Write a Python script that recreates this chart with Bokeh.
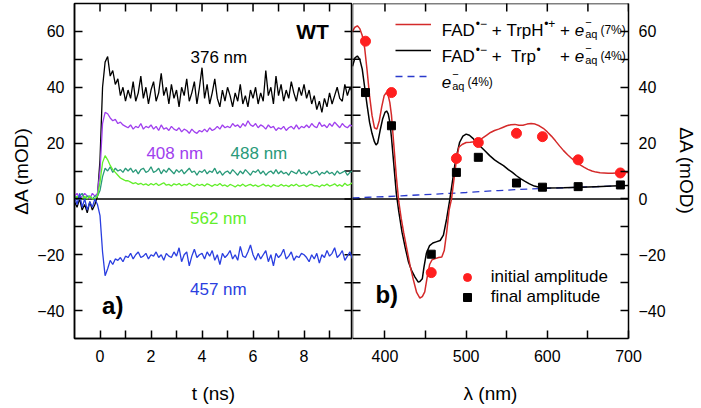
import numpy as np
from bokeh.plotting import figure
from bokeh.layouts import row
from bokeh.models import (LinearAxis, FixedTicker, Range1d, Span, Label, Legend,
                          LegendItem)
from bokeh.core.properties import value
from bokeh.embed import file_html
from bokeh.resources import INLINE

FONT = "Liberation Sans"

# ---------------- panel a) : transient traces (mOD) sampled every 0.1 ns from -1 ns
T_START = -1.0
T_STEP = 0.1
TRACE_376 = [-1, -3, 0, -4, -2, -5, -1, -4, -2, 1,
             14, 40, 49, 51, 44, 46, 41, 43, 37, 40, 35,
             39, 36, 42, 35, 38, 44, 36, 40, 34, 39,
             42, 35, 38, 45, 37, 40, 34, 41, 36, 39,
             33, 40, 37, 43, 35, 38, 42, 34, 40, 47,
             36, 41, 34, 38, 43, 36, 33, 39, 35, 40,
             37, 33, 38, 35, 41, 34, 37, 33, 39, 36,
             40, 34, 38, 35, 46, 37, 40, 34, 44, 37,
             41, 35, 39, 36, 42, 38, 35, 40, 37, 41,
             36, 39, 34, 37, 32, 35, 31, 36, 33, 38,
             34, 37, 40, 36, 35, 41, 37, 40, 38]
TRACE_408 = [1, 2, 0, 1, 2, 1, 0, 2, 1, 2,
             10, 27, 31, 30.5, 29, 28, 28.5, 27, 27.5, 26.5, 26,
             25.5, 26.5, 25, 26, 25.5, 27, 25, 26, 25.5, 26.5,
             25, 26, 24.5, 26.5, 25, 25.5, 24.5, 26, 25, 24.5,
             25.5, 24, 25, 24.5, 23.5, 25, 24, 23.5, 24.5, 24,
             25, 24, 25.5, 24.5, 25, 26, 25, 26.5, 25.5, 26,
             25.5, 27, 26, 26.5, 25.5, 27, 26, 28, 26.5, 26,
             27, 25.5, 26.5, 26, 25, 26.5, 25.5, 26, 24.5, 25.5,
             25, 26, 24.5, 25.5, 26, 25, 26.5, 25, 26, 25.5,
             26.5, 25.5, 27, 26, 25.5, 27.5, 26, 26.5, 25.5, 27,
             26, 27.5, 26.5, 25.5, 27, 26, 25.5, 26.5, 26]
TRACE_488 = [1, 0, 1, 2, 0, 1, 1, 0, 1, 1,
             3, 8, 11, 10, 11.5, 9.5, 11, 10, 10.5, 9.5, 11,
             10, 11, 9.5, 10.5, 9, 10.5, 11, 9.5, 10, 11.5,
             9.5, 10, 11, 9, 10.5, 9.5, 11, 10, 9, 10.5,
             9.5, 10.5, 9, 10, 11, 9.5, 10, 8.5, 10, 9.5,
             10.5, 9, 10, 9.5, 11, 9, 10, 8.5, 9.5, 10,
             9, 10.5, 9.5, 8.5, 10, 9, 10.5, 9.5, 8.5, 10,
             9.5, 10.5, 9, 10, 8.5, 9.5, 10, 9, 10.5, 9,
             10, 9, 9.5, 8.5, 10, 9.5, 9, 10.5, 9, 9.5,
             8.5, 10, 9, 9.5, 10, 8.5, 9.5, 9, 10, 9,
             9.5, 8.5, 10, 9, 9.5, 10, 8.5, 9.5, 10]
TRACE_562 = [0, 1, 0, 0, 1, 0, 1, 0, 0, 1,
             6, 13, 15.5, 14, 12, 10.5, 9.5, 8.5, 7.5, 7, 6.5,
             6.5, 6, 5.5, 5.8, 5.2, 5.6, 5, 5.4, 4.8, 5.5,
             5, 5.6, 4.8, 5.3, 5.8, 4.9, 5.2, 4.6, 5.4, 5,
             5.5, 4.7, 5.2, 4.9, 5.6, 5, 4.5, 5.3, 4.8, 5.2,
             4.6, 5.4, 5, 4.5, 5.2, 4.8, 5.5, 4.7, 5, 4.4,
             5.2, 4.8, 4.3, 5, 4.6, 5.3, 4.5, 4.9, 5.2, 4.6,
             5, 4.4, 4.8, 5.3, 4.6, 4.9, 4.3, 5.1, 4.7, 4.5,
             5.2, 4.6, 4.9, 4.4, 5.1, 4.7, 5.3, 4.5, 4.8, 5,
             4.4, 4.9, 5.2, 4.6, 4.8, 4.3, 5, 4.7, 5.3, 4.6,
             4.9, 5.4, 4.6, 5.1, 4.5, 5.6, 4.8, 5.2, 5.8]
TRACE_457 = [1, -2, 2, -3, 0, -4, -1, -3, 0, -2,
             -6, -19, -27.5, -25, -22, -23.5, -21.5, -22, -21, -22.5, -20.5,
             -21, -19.5, -21.5, -20, -19, -21, -20.5, -19.5, -21.5, -20,
             -20.5, -19, -21, -20, -22, -19.5, -20.5, -21, -19, -20.5,
             -17.5, -22.5, -20, -19, -24, -20.5, -18, -21, -20, -19.5,
             -21.5, -19, -20.5, -18.5, -22, -20, -23.5, -19.5, -21, -20,
             -18.5, -21.5, -20, -22, -17, -20.5, -21, -19, -16.5, -20,
             -22, -19.5, -21.5, -20, -18.5, -22.5, -20, -24, -19.5, -21,
             -20, -18, -21.5, -20.5, -19, -22, -20.5, -21, -19.5, -20,
             -21, -22.5, -20, -21.5, -19.5, -23, -20, -21, -18.5, -20.5,
             -19.5, -17.5, -21, -20, -18.5, -22, -20.5, -19, -21.5]

TRACE_NAMES = ["376 nm", "408 nm", "488 nm", "562 nm", "457 nm"]
TRACE_COLORS = ["#000000", "#a040ee", "#2a9a7a", "#62ee2a", "#2a3ee0"]

# ---------------- panel b) : spectra
WL_RED = [360, 363, 366, 369, 372, 375, 378, 381, 384, 387, 390, 393, 396, 399, 402,
          404, 406, 408, 411, 414, 417, 420, 423, 427, 431, 435, 439, 443, 446, 449,
          452, 455, 458, 462, 466, 470, 473, 476, 479, 482, 485, 488, 491, 495,
          500, 505, 510, 515, 520, 525, 530, 535, 540, 545, 550, 555, 560, 565, 570,
          575, 580, 585, 590, 595, 600, 605, 610, 615, 620, 625, 630, 635, 640, 645,
          650, 655, 660, 665, 670, 675, 680, 685, 690, 695, 700]
SPEC_RED = [60.0, 61.5, 62.0, 61.0, 58.5, 54.0, 46.0, 37.0, 30.0, 25.5, 25.0, 28.0, 33.0, 37.0, 38.2,
            37.0, 34.5, 30.0, 19.0, 8.0, -1.0, -7.0, -12.0, -18.0, -24.0, -29.0, -33.5, -35.5, -35.0, -33.3,
            -28.0, -23.5, -21.8, -21.4, -21.0, -20.8, -18.5, -12.0, -4.0, 0.0, 7.0, 14.0, 18.5, 19.5,
            20.2, 20.3, 20.5, 21.0, 21.8, 22.8, 23.8, 24.5, 25.0, 25.6, 26.2, 26.6, 26.7, 26.4, 26.4,
            26.8, 27.0, 26.8, 26.2, 25.3, 24.0, 22.5, 20.8, 19.0, 17.3, 15.8, 14.5, 13.3, 12.3, 11.4,
            10.6, 10.0, 9.6, 9.4, 9.3, 9.2, 9.2, 9.3, 9.4, 9.5, 9.5]
WL_BLK = [360, 363, 366, 369, 372, 375, 378, 381, 384, 387, 389, 391, 394, 397, 400, 402, 404, 406,
          408, 411, 414, 417, 421, 425, 429, 433, 437, 441, 443, 446, 448, 451, 455, 459, 463, 468,
          472, 476, 480, 483, 486, 489, 492, 496, 500, 504, 508, 513, 518, 524, 529, 535, 540, 546,
          552, 557, 562, 567, 572, 578, 584, 590, 595, 600, 620, 640, 660, 680, 700]
SPEC_BLK = [47.5, 50.5, 51.2, 50.0, 46.5, 40.0, 33.5, 27.5, 23.5, 20.5, 19.3, 20.0, 24.5, 28.5, 31.0, 31.5, 30.5, 27.5,
            22.0, 12.0, 2.0, -4.5, -11.9, -17.5, -22.6, -25.8, -28.0, -29.8, -29.6, -28.6, -24.5, -19.5, -16.7, -15.8, -15.4, -14.9,
            -13.0, -7.1, 0.0, 6.0, 12.0, 16.5, 20.3, 22.5, 23.2, 22.8, 21.8, 20.2, 18.7, 17.0, 15.5, 14.0, 13.0, 11.9,
            10.5, 9.5, 8.3, 7.3, 6.4, 5.4, 4.6, 4.2, 4.0, 3.9, 4.0, 4.2, 4.4, 4.6, 4.8]
WL_EAQ = [360, 380, 400, 420, 440, 460, 480, 500, 520, 540, 560, 580, 600, 620, 640, 660, 680, 700]
SPEC_EAQ = [0.4, 0.6, 0.8, 1.1, 1.4, 1.7, 2.0, 2.3, 2.7, 3.0, 3.3, 3.6, 3.8, 4.0, 4.2, 4.4, 4.6, 4.7]

WL_PTS = [376, 408, 457, 488, 515, 562, 594, 638, 690]
AMP_INITIAL = [56.5, 38.1, -26.4, 14.5, 20.2, 23.5, 22.3, 14.0, 9.3]
AMP_FINAL = [38.1, 26.2, -19.8, 9.5, 14.9, 5.7, 4.2, 4.4, 5.0]

Y_TICKS = [-40, -20, 0, 20, 40, 60]
Y_MINOR = [-30, -10, 10, 30, 50]
T_TICKS = [0, 2, 4, 6, 8]
T_MINOR = [1, 3, 5, 7, 9]
WL_TICKS = [400, 500, 600, 700]
WL_MINOR = [450, 550, 650]

RED_LINE = "#d42a2a"
RED_DOT = "#ff1f1f"
BLUE_DASH = "#2a3acc"

# ---------------- layout constants
X_A = (-1, 9.9)
X_B = (360, 700)
Y0, Y1 = -50, 70
FRAME_H = 335
TOP, BOTTOM = 3, 69
TICK = 8
LW = 1.5


def make_axis(ticks, minor, title, lab_standoff, title_standoff):
    ax = LinearAxis(ticker=FixedTicker(ticks=ticks, minor_ticks=minor))
    ax.axis_line_width = LW
    ax.axis_line_color = "black"
    ax.major_tick_in = TICK
    ax.major_tick_out = 0
    ax.minor_tick_in = TICK
    ax.minor_tick_out = 0
    ax.major_tick_line_width = LW
    ax.minor_tick_line_width = LW
    ax.major_label_text_font = FONT
    ax.major_label_text_font_size = "16px"
    ax.major_label_text_color = "black"
    ax.major_label_standoff = lab_standoff
    ax.axis_label = title
    ax.axis_label_standoff = title_standoff
    ax.axis_label_text_font = FONT
    ax.axis_label_text_font_size = "19px"
    ax.axis_label_text_font_style = "normal"
    ax.axis_label_text_color = "black"
    return ax


def base_fig(width, xr, left, right, outline=True):
    p = figure(width=width, height=TOP + FRAME_H + BOTTOM, x_range=Range1d(*xr),
               y_range=Range1d(Y0, Y1), x_axis_location=None, y_axis_location=None,
               output_backend="svg", toolbar_location=None, min_border_left=left,
               min_border_right=right, min_border_top=TOP, min_border_bottom=BOTTOM)
    p.xgrid.visible = False
    p.ygrid.visible = False
    if outline:
        p.outline_line_color = "black"
        p.outline_line_width = LW
    else:
        # shared left edge (completes panel a)'s right edge) and top edge as spans
        p.outline_line_color = None
        p.add_layout(Span(location=Y1, dimension="width", line_color="black", line_width=LW))
        p.add_layout(Span(location=xr[0], dimension="height", line_color="black",
                          line_width=LW))
    p.background_fill_color = "white"
    p.border_fill_color = "white"
    p.add_layout(Span(location=0, dimension="width", line_color="black", line_width=LW,
                      level="underlay"))
    return p


def edge_ticks(p, xs, ys, angle):
    # inward tick marks on frame edges without their own axis (clipped to the frame)
    p.scatter(x=xs, y=ys, marker="dash", size=2 * TICK, angle=angle,
              line_color="black", line_width=LW)


def label(p, x, y, text, size, color="black", style="normal", align="left",
          baseline="middle", dx=0, dy=0):
    p.add_layout(Label(x=x, y=y, text=text, x_offset=dx, y_offset=dy, text_font=FONT,
                       text_font_size=f"{size}px", text_font_style=style, text_color=color,
                       text_align=align, text_baseline=baseline))


# ================= panel a)
p1 = base_fig(352, X_A, 74, 0)
p1.add_layout(make_axis(Y_TICKS, Y_MINOR, "ΔA (mOD)", 10, 2), "left")
p1.add_layout(make_axis(T_TICKS, T_MINOR, "t (ns)", 11, 18), "below")
t_all = sorted(T_TICKS + T_MINOR)
y_all = sorted(Y_TICKS + Y_MINOR)
edge_ticks(p1, t_all, [Y1] * len(t_all), np.pi / 2)
edge_ticks(p1, [X_A[1]] * len(y_all), y_all, 0)

for trace, col in zip([TRACE_376, TRACE_408, TRACE_488, TRACE_562, TRACE_457], TRACE_COLORS):
    tt = T_START + T_STEP * np.arange(len(trace))
    p1.line(x=tt, y=trace, line_color=col, line_width=1.3)

label(p1, 8.97, 59.8, "WT", 21, style="bold", align="right")
label(p1, 4.66, 50.5, TRACE_NAMES[0], 17, TRACE_COLORS[0], align="center")
label(p1, 2.93, 16.1, TRACE_NAMES[1], 17, TRACE_COLORS[1], align="center")
label(p1, 6.23, 16.1, TRACE_NAMES[2], 17, TRACE_COLORS[2], align="center")
label(p1, 4.64, -6.9, TRACE_NAMES[3], 17, TRACE_COLORS[3], align="center")
label(p1, 4.64, -32.4, TRACE_NAMES[4], 17, TRACE_COLORS[4], align="center")
label(p1, 0.08, -38.1, "a)", 24, style="bold")

# ================= panel b)
FRAME_W_B = 276
p2 = base_fig(FRAME_W_B + 72, X_B, 0, 72, outline=False)
p2.add_layout(make_axis(Y_TICKS, Y_MINOR, "ΔA (mOD)", 10, 7), "right")
p2.add_layout(make_axis(WL_TICKS, WL_MINOR, "λ (nm)", 11, 18), "below")
wl_all = sorted(WL_TICKS + WL_MINOR)
edge_ticks(p2, wl_all, [Y1] * len(wl_all), np.pi / 2)
edge_ticks(p2, [X_B[0]] * len(y_all), y_all, 0)

r_eaq = p2.line(x=WL_EAQ, y=SPEC_EAQ, line_color=BLUE_DASH, line_width=1.3, line_dash="7 5")
r_blk = p2.line(x=WL_BLK, y=SPEC_BLK, line_color="black", line_width=1.5)
r_red = p2.line(x=WL_RED, y=SPEC_RED, line_color=RED_LINE, line_width=1.5)
r_ini = p2.scatter(x=WL_PTS, y=AMP_INITIAL, marker="circle", size=10, color=RED_DOT)
r_fin = p2.scatter(x=WL_PTS, y=AMP_FINAL, marker="square", size=8, color="black")

label(p2, 388.2, -34.3, "b)", 24, style="bold")

# ---- line legend (keys drawn by Legend, composite text by Labels)
PX_PER_Y = FRAME_H / (Y1 - Y0)
ITEM_H = 20
PITCH = 26
KEY_W = 36
LEG_TOP_Y = 62.5          # data y of first legend key
LEG_TEXT_X = 470.0        # nm, text start
LEG_KEY_X = 43            # px from frame left
top_px = (Y1 - LEG_TOP_Y) * PX_PER_Y - ITEM_H / 2
leg_h = 3 * ITEM_H + 2 * (PITCH - ITEM_H)
line_legend = Legend(items=[LegendItem(label=value(" "), renderers=[r_red]),
                            LegendItem(label=value(" "), renderers=[r_blk]),
                            LegendItem(label=value(" "), renderers=[r_eaq])],
                     location=(LEG_KEY_X, FRAME_H - top_px - leg_h),
                     glyph_width=KEY_W, glyph_height=ITEM_H, label_height=ITEM_H, label_width=0,
                     label_standoff=0, spacing=PITCH - ITEM_H, padding=0, margin=0,
                     border_line_color=None, background_fill_alpha=0,
                     label_text_font_size="8px")
p2.add_layout(line_legend)

W = {" ": .278, "+": .584, "\u2212": .584, "\u2022": .35, "F": .611, "A": .667, "D": .722,
     "T": .611, "r": .333, "p": .556, "H": .722, "e": .556, "a": .556, "q": .556,
     "(": .333, ")": .333, "%": .889}


def tw(s, size):
    return sum(W.get(c, .556) for c in s) * size


MAIN, SUP, SMALL = 17, 12, 12
B = -6
SP = tw(" ", MAIN)
entry_y = [LEG_TOP_Y - k * PITCH / PX_PER_Y for k in range(3)]


def piece(y, dx, text, size, dy, style="normal"):
    label(p2, LEG_TEXT_X, y, text, size, style=style, baseline="alphabetic", dx=dx, dy=dy)


def run(y, cx, parts):
    # parts: ("gap", px) or (text, size, dy, style)
    for part in parts:
        if part[0] == "gap":
            cx += part[1]
            continue
        text, size, dy, style = part
        piece(y, cx, text, size, dy, style)
        cx += tw(text, size)
    return cx


def eaq(y, cx, pct):
    piece(y, cx, "e", MAIN, B, "italic")
    cx += tw("e", MAIN) + 1
    piece(y, cx, "\u2212", SUP - 1, B + 8)
    piece(y, cx, "aq", SUP - 1, B - 4)
    cx += tw("aq", SUP - 1) + 3
    piece(y, cx, f"({pct})", SMALL, B)


# entry 1
y = entry_y[0]
cx = run(y, 0, [("FAD", MAIN, B, "normal"), ("\u2022\u2212", SUP, B + 6, "normal"),
                ("gap", SP), ("+", MAIN, B, "normal"), ("gap", SP),
                ("TrpH", MAIN, B, "normal"), ("\u2022+", SUP, B + 6, "normal"), ("gap", SP)])
plus_x = cx
cx = run(y, cx, [("+", MAIN, B, "normal"), ("gap", SP)])
eaq(y, cx, "7%")
# entry 2
y = entry_y[1]
run(y, 0, [("FAD", MAIN, B, "normal"), ("\u2022\u2212", SUP, B + 6, "normal"),
           ("gap", SP), ("+", MAIN, B, "normal"), ("gap", 2 * SP),
           ("Trp", MAIN, B, "normal"), ("\u2022", SUP, B + 6, "normal")])
cx = run(y, plus_x, [("+", MAIN, B, "normal"), ("gap", SP)])
eaq(y, cx, "4%")
# entry 3
eaq(entry_y[2], 0, "4%")

# ---- marker legend
MK_TOP_Y = -28.0
mk_top_px = (Y1 - MK_TOP_Y) * PX_PER_Y - ITEM_H / 2
marker_legend = Legend(items=[LegendItem(label=value("initial amplitude"), renderers=[r_ini]),
                              LegendItem(label=value("final amplitude"), renderers=[r_fin])],
                       location=(104.7, FRAME_H - mk_top_px - 2 * ITEM_H),
                       glyph_width=20, glyph_height=ITEM_H, label_height=ITEM_H,
                       label_standoff=14, spacing=0, padding=0, margin=0,
                       border_line_color=None, background_fill_alpha=0,
                       label_text_font=FONT, label_text_font_size="17px",
                       label_text_color="black")
p2.add_layout(marker_legend)

layout = row(p1, p2)
open("out.html", "w").write(file_html(layout, INLINE))
